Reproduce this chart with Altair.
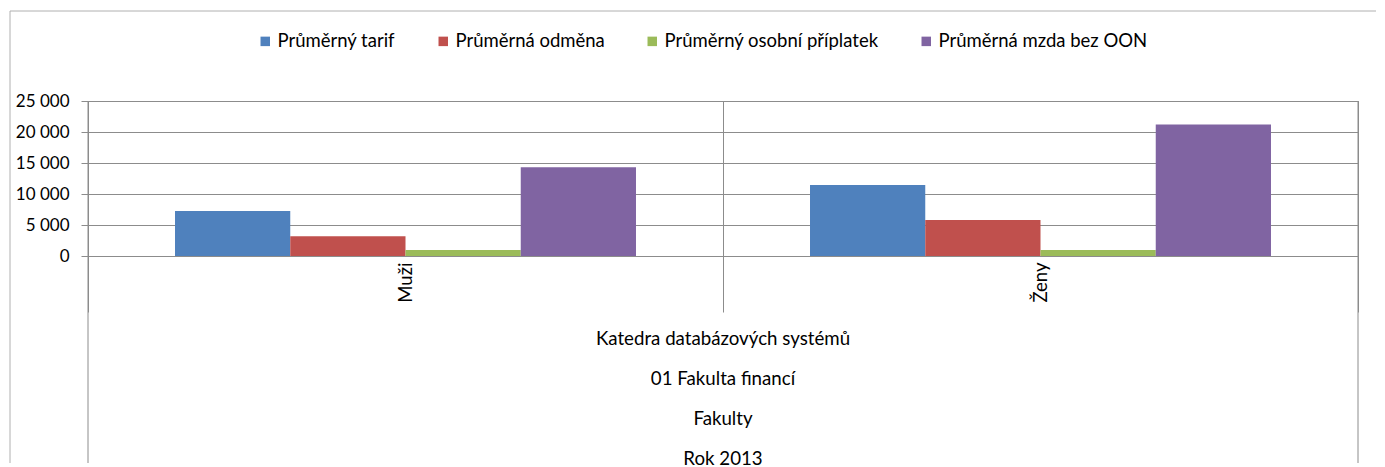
import altair as alt
import pandas as pd

categories = ["Muži", "Ženy"]
series = ["Průměrný tarif", "Průměrná odměna", "Průměrný osobní příplatek", "Průměrná mzda bez OON"]
muzi_values = [7250, 3200, 950, 14300]
zeny_values = [11450, 5800, 950, 21200]
colors = ["#4F81BD", "#C0504D", "#9BBB59", "#8064A2"]
y_ticks = [0, 5000, 10000, 15000, 20000, 25000]
hierarchy = ["Katedra databázových systémů", "01 Fakulta financí", "Fakulty", "Rok 2013"]

rows = []
for cat, vals in zip(categories, [muzi_values, zeny_values]):
    for s, v in zip(series, vals):
        rows.append({"kategorie": cat, "ukazatel": s, "hodnota": v})
df = pd.DataFrame(rows)

W, H = 1270, 155
FONT = "Lato"
GRID = "#8c8c8c"
BORDER = "#b0b0b0"
FS = 17

bars = alt.Chart(df).mark_bar().encode(
    x=alt.X(
        "kategorie:N", sort=categories, title=None,
        scale=alt.Scale(paddingInner=0, paddingOuter=0),
        axis=alt.Axis(labelAngle=-90, tickBand="extent", grid=True, gridColor=GRID,
                      tickColor=GRID, tickSize=56, labelPadding=-50, domain=False,
                      labelFont=FONT, labelFontSize=18.5, labelColor="#000"),
    ),
    xOffset=alt.XOffset("ukazatel:N", sort=series,
                        scale=alt.Scale(paddingInner=0, paddingOuter=0.755)),
    y=alt.Y(
        "hodnota:Q", title=None, scale=alt.Scale(domain=[0, 25000]),
        axis=alt.Axis(values=y_ticks,
                      labelExpr="replace(format(datum.value, ','), ',', ' ')",
                      gridColor=GRID, tickColor=GRID, tickSize=7, domainColor=GRID,
                      labelPadding=12, labelFont=FONT, labelFontSize=FS, labelColor="#000"),
    ),
    color=alt.Color(
        "ukazatel:N", sort=series, scale=alt.Scale(domain=series, range=colors),
        legend=alt.Legend(title=None, orient="none", legendX=168, legendY=-69,
                          direction="horizontal", symbolType="square", symbolSize=90,
                          symbolStrokeWidth=0, symbolOpacity=1, labelFont=FONT,
                          labelFontSize=18.5, labelColor="#000", columnPadding=38,
                          labelOffset=3, labelLimit=0),
    ),
)

one = alt.Data(values=[{}])
left_rule = alt.Chart(one).mark_rule(color=GRID).encode(
    x=alt.value(0), y=alt.value(0), y2=alt.value(362))
right_rule = alt.Chart(one).mark_rule(color=GRID).encode(
    x=alt.value(W), y=alt.value(0), y2=alt.value(362))
border_left = alt.Chart(one).mark_rule(color=BORDER).encode(
    x=alt.value(-78), y=alt.value(-90), y2=alt.value(362))
border_top = alt.Chart(one).mark_rule(color=BORDER).encode(
    x=alt.value(-78), x2=alt.value(1320), y=alt.value(-90))

chart = alt.layer(border_left, border_top, bars, left_rule, right_rule).properties(
    width=W, height=H,
    padding={"left": 80, "top": 93, "right": 18, "bottom": 215},
    autosize=alt.AutoSizeParams(type="none"),
    title=alt.TitleParams(text=hierarchy, orient="bottom", anchor="middle",
                          font=FONT, fontSize=18.7, fontWeight="normal",
                          color="#000", lineHeight=40, offset=-134),
).configure_view(stroke=GRID)

chart.save("out.html", embed_options={"renderer": "svg", "actions": False})
